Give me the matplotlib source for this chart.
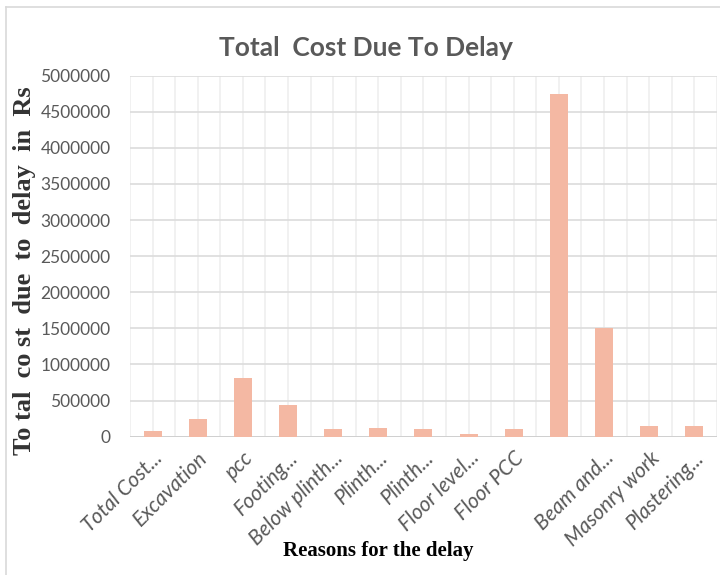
import numpy as np
import matplotlib
matplotlib.use('Agg')
import matplotlib.pyplot as plt
from matplotlib.lines import Line2D

# categories as shown on the x axis (10th label is blank in the original)
reasons = ['Total Cost...', 'Excavation', 'pcc', 'Footing...', 'Below plinth...',
           'Plinth...', 'Plinth...', 'Floor level...', 'Floor PCC', '',
           'Beam and...', 'Masonry work', 'Plastering...']
cost = [80000, 250000, 810000, 440000, 100000,
        125000, 100000, 35000, 100000, 4750000,
        1500000, 150000, 150000]
yticks = list(range(0, 5000001, 500000))

bar_color = '#F4B8A3'
grey_txt = '#595959'
sans = 'Lato'

fig = plt.figure(figsize=(7.2, 5.75), dpi=100)
ax = fig.add_axes([0.1806, 0.2405, 0.815, 0.628])

x = np.arange(len(reasons))
ax.bar(x, cost, width=0.4, color=bar_color, zorder=3)

ax.set_xlim(-0.5, len(reasons) - 0.5)
ax.set_ylim(0, 5000000)
ax.set_yticks(yticks)
ax.set_yticklabels([str(v) for v in yticks], fontsize=12.5,
                   family=sans, color=grey_txt)

# vertical grid at centres and at category boundaries
for xv in np.arange(-0.5, len(reasons), 0.5):
    ax.axvline(xv, color='#efefef', linewidth=1.2, zorder=1)
for yv in yticks:
    ax.axhline(yv, color='#dcdcdc', linewidth=1.2, zorder=1)
ax.axhline(0, color='#d0d0d0', linewidth=1.4, zorder=2)

ax.set_xticks(x)
ax.set_xticklabels(reasons, rotation=45, ha='right', rotation_mode='anchor',
                   fontsize=15, family=sans, style='italic', color=grey_txt)
ax.tick_params(axis='y', length=0, pad=14)
ax.tick_params(axis='x', length=0, pad=8)
for s in ax.spines.values():
    s.set_visible(False)

fig.text(0.508, 0.917, 'Total  Cost Due To Delay', ha='center', va='center',
         fontsize=19, fontweight='bold', family=sans, color=grey_txt)
fig.text(0.034, 0.53, 'To tal  co st  due  to  delay  in  Rs', rotation=90,
         ha='center', va='center', fontsize=19, fontweight='bold',
         family='Liberation Serif', color='#333333')
fig.text(0.525, 0.042, 'Reasons for the delay', ha='center', va='center',
         fontsize=15, fontweight='bold', family='Liberation Serif', color='black')

# outer chart frame (top and left visible)
fig.add_artist(Line2D([0.009, 1.0], [0.988, 0.988], color='#d9d9d9', linewidth=1.2))
fig.add_artist(Line2D([0.009, 0.009], [0.0, 0.988], color='#d9d9d9', linewidth=1.2))

fig.savefig('out.png', dpi=100)
